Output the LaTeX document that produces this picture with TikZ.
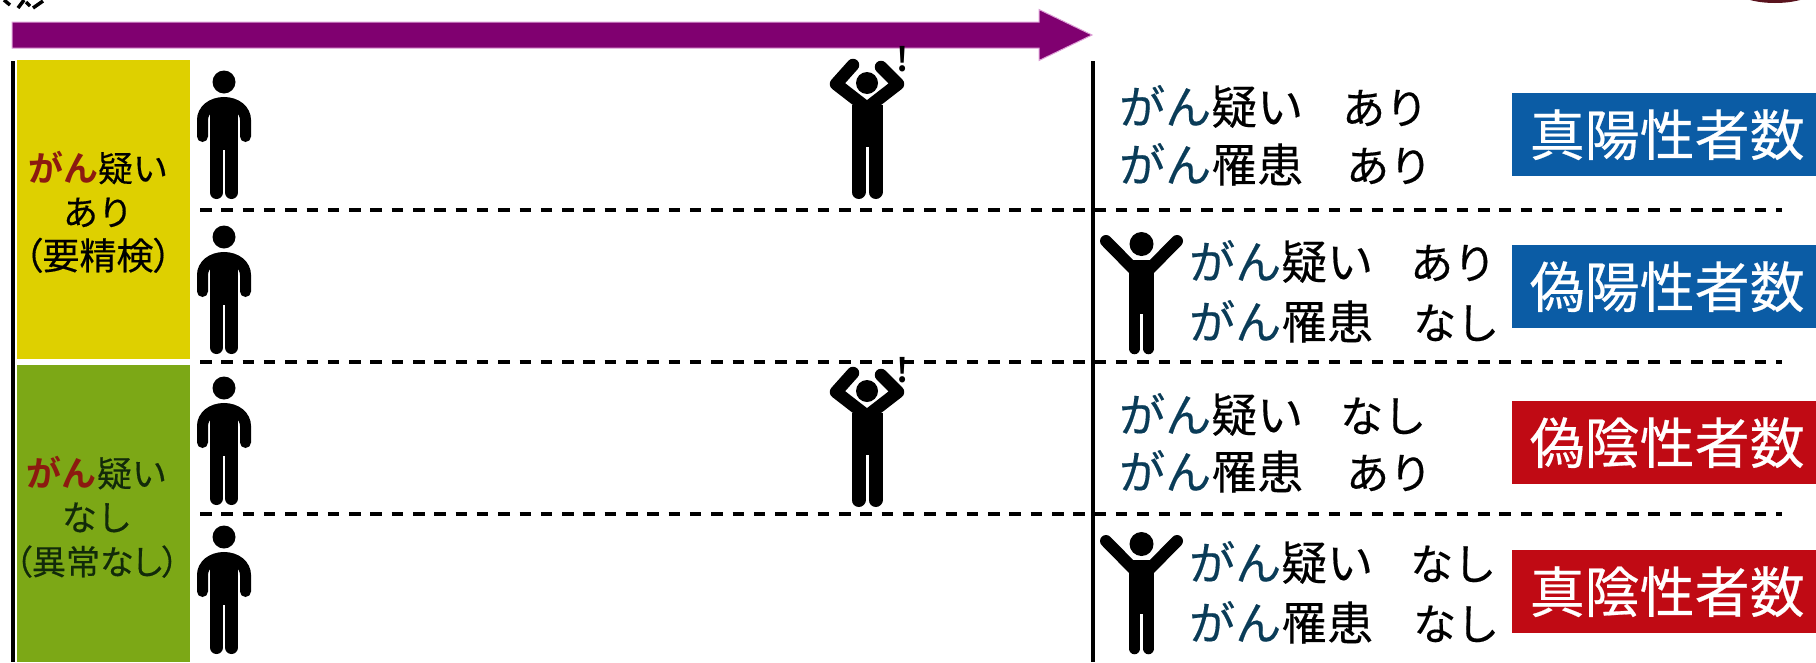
\documentclass[tikz,border=0pt]{standalone}
\usepackage{fontspec}
\setmainfont[FakeBold=0.35,BoldFont={Noto Sans CJK JP Bold},BoldFeatures={FakeBold=0}]{Noto Sans CJK JP}
\newfontfamily\paltfont[FakeBold=0.35,RawFeature=+palt]{Noto Sans CJK JP}
\definecolor{purpleA}{RGB}{128,0,112}
\definecolor{purpleE}{RGB}{222,160,215}
\definecolor{yellowB}{RGB}{222,208,0}
\definecolor{greenB}{RGB}{124,168,22}
\definecolor{blueB}{RGB}{11,92,165}
\definecolor{redB}{RGB}{192,10,20}
\definecolor{ganRed}{RGB}{140,26,16}
\definecolor{ganTeal}{RGB}{10,60,88}
\definecolor{darkG}{RGB}{18,42,10}
\definecolor{blob}{RGB}{90,20,30}
\newcommand{\ganT}{\textcolor{ganTeal}{がん}}
\newcommand{\ganR}{\textcolor{ganRed}{\bfseries がん}}
\newcommand{\kanaA}{\fontsize{43}{46}\selectfont}
\tikzset{
  sidebox/.style={inner sep=0pt,minimum width=173.5pt,anchor=north west},
  sidetext/.style={font=\fontsize{35}{44}\selectfont,align=center,inner sep=0pt,text=black},
  rowtext/.style={font=\fontsize{46}{46}\selectfont,inner sep=0pt,anchor=west,text height=40pt,text depth=6pt,text=black},
  resultbox/.style={font=\fontsize{55}{55}\selectfont,text=white,inner sep=0pt,anchor=north west,minimum width=304pt,minimum height=83pt},
  axisline/.style={line width=4pt,black},
  rowline/.style={line width=3.2pt,black,dash pattern=on 11.5pt off 9.8pt},
  excl/.style={font=\fontsize{33}{33}\selectfont\bfseries,inner sep=0pt,text=black},
  pics/standingfig/.style={code={
    \fill[black] (0,0) circle[radius=11.5pt];
    \fill[black] (-14,18) rectangle (14,68);
    \draw[black,line width=11pt,line cap=round] (-21.5,54.5) -- (-21.5,38) .. controls (-21.5,28) and (-12,20.5) .. (0,20.5) .. controls (12,20.5) and (21.5,28) .. (21.5,38) -- (21.5,54.5);
    \draw[black,line width=13pt,line cap=round] (-7.5,66) -- (-7.5,110.5);
    \draw[black,line width=13pt,line cap=round] (7.5,66) -- (7.5,110.5);
  }},
  pics/cheerfig/.style={code={
    \fill[black] (0,0) circle[radius=12pt];
    \fill[black] (-12.5,16) rectangle (12.5,70);
    \draw[black,line width=12pt,line cap=round] (-35.5,-3) -- (-5,28);
    \draw[black,line width=12pt,line cap=round] (35.5,-3) -- (5,28);
    \draw[black,line width=11.5pt,line cap=round] (-7,66) -- (-7,104.5);
    \draw[black,line width=11.5pt,line cap=round] (7,66) -- (7,104.5);
  }},
  pics/surprisedfig/.style={code={
    \fill[black] (0,0) circle[radius=11pt];
    \fill[black] (-15.5,22) rectangle (15.5,64);
    \draw[black,line width=12.5pt,line cap=round,line join=round] (-14,-18) -- (-31,1) -- (0,25);
    \draw[black,line width=12.5pt,line cap=round,line join=round] (14,-16) -- (31,1) -- (0,25);
    \draw[black,line width=14pt,line cap=round] (-8.5,60) -- (-8.5,109);
    \draw[black,line width=14pt,line cap=round] (8.5,60) -- (8.5,109);
  }},
}
\begin{document}
\begin{tikzpicture}[x=1pt,y=-1pt]
\path[use as bounding box] (0,0) rectangle (1816,662);
% cut-off fragments at the top edge
\draw[black,line width=3.5pt] (4,0) -- (10,5);
\draw[black,line width=3.5pt] (18,8) -- (24,0);
\draw[black,line width=3.5pt] (26,2) -- (30,6);
\draw[black,line width=3.5pt] (33,8) -- (43,1);
\fill[blob] (1750,0) -- (1800,0) .. controls (1785,4) and (1765,4) .. (1750,0) -- cycle;
% time arrow
\fill[purpleA,draw=purpleE,line width=1pt] (12,22) -- (1039,22) -- (1039,9.5) -- (1092,35) -- (1039,60.5) -- (1039,48) -- (12,48) -- cycle;
% side boxes
\node[sidebox,fill=yellowB,minimum height=299pt] (yb) at (16.5,60) {};
\node[sidebox,fill=greenB,minimum height=297pt] (gb) at (16.5,365) {};
\node[sidetext] (yt) at (98,212) {\ganR 疑い\\あり\\{\fontsize{37}{44}\selectfont\paltfont （要精検）}};
\node[sidetext,text=darkG] (gt) at (97,517) {\ganR 疑い\\なし\\{\fontsize{34}{44}\selectfont\paltfont （異常なし）}};
% axes
\coordinate (lt) at (12.5,61); \coordinate (lb) at (12.5,662);
\coordinate (rt) at (1092.5,61); \coordinate (rb) at (1092.5,662);
\draw[axisline] (lt) -- (lb);
% row separators
\coordinate (d1a) at (200,210); \coordinate (d1b) at (1782,210);
\coordinate (d2a) at (200,362); \coordinate (d2b) at (1782,362);
\coordinate (d3a) at (200,514); \coordinate (d3b) at (1782,514);
\draw[rowline] (d1a) -- (d1b);
\draw[rowline] (d2a) -- (d2b);
\draw[rowline] (d3a) -- (d3b);
\draw[axisline] (rt) -- (rb);
% figures
\pic at (224,82) {standingfig};
\pic at (224,237) {standingfig};
\pic at (224,388) {standingfig};
\pic at (224,537) {standingfig};
\pic at (867,83) {surprisedfig};
\pic at (867,391) {surprisedfig};
\pic at (1141.5,244) {cheerfig};
\pic at (1141.5,544) {cheerfig};
\node[excl] (e1) at (903,59) {!};
\node[excl] (e2) at (903,370) {!};
% row texts
\node[rowtext] (a1) at (1119,107) {\ganT 疑い};
\node[rowtext] (a2) at (1342,107) {\kanaA あり};
\node[rowtext] (a3) at (1119,165) {\ganT 罹患};
\node[rowtext] (a4) at (1346,165) {\kanaA あり};
\node[rowtext] (b1) at (1189,262) {\ganT 疑い};
\node[rowtext] (b2) at (1410,262) {\kanaA あり};
\node[rowtext] (b3) at (1189,322) {\ganT 罹患};
\node[rowtext] (b4) at (1413,322) {\kanaA なし};
\node[rowtext] (c1) at (1119,415) {\ganT 疑い};
\node[rowtext] (c2) at (1340,415) {\kanaA なし};
\node[rowtext] (c3) at (1119,472) {\ganT 罹患};
\node[rowtext] (c4) at (1346,472) {\kanaA あり};
\node[rowtext] (e5) at (1189,563) {\ganT 疑い};
\node[rowtext] (e6) at (1410,563) {\kanaA なし};
\node[rowtext] (e7) at (1189,623) {\ganT 罹患};
\node[rowtext] (e8) at (1413,623) {\kanaA なし};
% result boxes
\node[resultbox,fill=blueB] (r1) at (1512,93) {\hspace*{6pt}真陽性者数};
\node[resultbox,fill=blueB] (r2) at (1512,245) {\hspace*{6pt}偽陽性者数};
\node[resultbox,fill=redB] (r3) at (1512,401) {\hspace*{6pt}偽陰性者数};
\node[resultbox,fill=redB] (r4) at (1512,550) {\hspace*{6pt}真陰性者数};
\end{tikzpicture}
\end{document}
